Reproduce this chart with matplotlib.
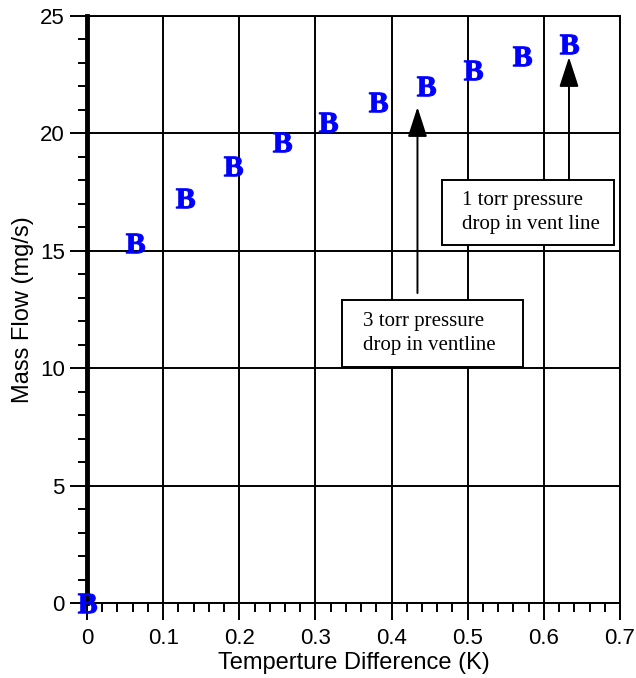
import matplotlib
matplotlib.use("Agg")
import matplotlib.pyplot as plt
from matplotlib.patches import Rectangle

plt.rcParams['font.family'] = ['Liberation Sans', 'DejaVu Sans']
plt.rcParams['mathtext.fontset'] = 'custom'
plt.rcParams['mathtext.bf'] = 'Liberation Serif:bold'
plt.rcParams['mathtext.rm'] = 'Liberation Serif'

# data
temp_diff = [0.0, 0.0634, 0.1287, 0.1921, 0.2557, 0.3165, 0.3826, 0.4452, 0.5074, 0.5709, 0.6334]
mass_flow = [0.0, 15.32, 17.24, 18.62, 19.65, 20.50, 21.35, 22.02, 22.70, 23.30, 23.79]

xticks = [0, 0.1, 0.2, 0.3, 0.4, 0.5, 0.6, 0.7]
xtick_labels = ['0', '0.1', '0.2', '0.3', '0.4', '0.5', '0.6', '0.7']
yticks = [0, 5, 10, 15, 20, 25]

# annotation boxes: (x0, y0, x1, y1) in data units, and text
box_1torr = (0.466, 15.25, 0.692, 18.02)
text_1torr = "1 torr pressure\ndrop in vent line"
box_3torr = (0.335, 10.06, 0.572, 12.90)
text_3torr = "3 torr pressure\ndrop in ventline"
arrow_3torr = ((0.434, 13.2), (0.434, 21.12))
arrow_1torr = ((0.633, 18.02), (0.633, 23.25))

fig = plt.figure(figsize=(6.36, 6.78), dpi=100)
ax = fig.add_axes([87 / 636, 75 / 678, 533 / 636, 587 / 678])

ax.set_xlim(0, 0.7)
ax.set_ylim(0, 25)
ax.set_xticks(xticks)
ax.set_xticklabels(xtick_labels)
ax.set_yticks(yticks)
ax.set_xticks([i * 0.02 for i in range(36)], minor=True)
ax.set_yticks(list(range(26)), minor=True)

ax.grid(True, which='major', color='black', linewidth=1.4, zorder=1)
ax.set_axisbelow(True)

for side in ['top', 'right', 'bottom']:
    ax.spines[side].set_linewidth(1.4)
ax.spines['left'].set_linewidth(3.5)
for s in ax.spines.values():
    s.set_zorder(5)

ax.tick_params(axis='both', which='major', direction='out', length=12, width=1.4,
               labelsize=16, top=False, right=False)
ax.tick_params(axis='both', which='minor', direction='out', length=6.5, width=1.4,
               top=False, right=False)
ax.tick_params(axis='x', which='major', pad=6)
ax.tick_params(axis='y', which='major', pad=4)

ax.set_xlabel("Temperture Difference (K)", fontsize=17, labelpad=2)
ax.set_ylabel("Mass Flow (mg/s)", fontsize=17, labelpad=4)

for (x0, y0, x1, y1), txt in [(box_1torr, text_1torr), (box_3torr, text_3torr)]:
    ax.add_patch(Rectangle((x0, y0), x1 - x0, y1 - y0, facecolor='white',
                           edgecolor='black', linewidth=1.4, zorder=3))
    ax.text(x0 + 0.027, (y0 + y1) / 2, txt, fontsize=15, family='Liberation Serif',
            ha='left', va='center', linespacing=1.4, zorder=4)

for (tail, head) in [arrow_3torr, arrow_1torr]:
    ax.annotate('', xy=head, xytext=tail,
                arrowprops=dict(arrowstyle='-|>,head_length=1.85,head_width=0.6',
                                mutation_scale=10, color='black', lw=1.4,
                                shrinkA=0, shrinkB=0),
                zorder=4)

ax.plot(temp_diff, mass_flow, linestyle='none', marker=r'$\mathbf{B}$',
        markersize=14, color='blue', markeredgewidth=0.8, clip_on=False, zorder=6)

fig.savefig('out.png', dpi=100)
